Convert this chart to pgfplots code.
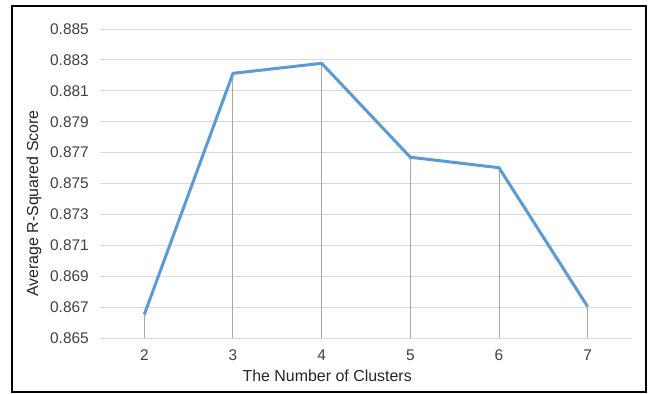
\documentclass[border=0pt]{standalone}
\usepackage{fontspec}
\setmainfont{Liberation Sans}
\usepackage{pgfplots}
\pgfplotsset{compat=1.18}
\definecolor{linecol}{HTML}{5B9BD5}
\definecolor{gridcol}{HTML}{D9D9D9}
\definecolor{dropcol}{HTML}{A6A6A6}
\definecolor{tickcol}{HTML}{404040}
\definecolor{labcol}{HTML}{262626}

\pgfplotstableread{
k   r2
2   0.86653
3   0.88213
4   0.88278
5   0.87670
6   0.87602
7   0.86703
}\scores

\begin{document}
\begin{tikzpicture}
\path[use as bounding box] (-100bp,-56bp) rectangle (553bp,338bp);
\draw[line width=2.3bp] (-87.8bp,-54bp) rectangle (546bp,332bp);
\begin{axis}[
  at={(0,0)}, anchor=south west,
  scale only axis, width=532bp, height=309bp,
  xmin=1.5, xmax=7.5, ymin=0.865, ymax=0.885,
  xtick={2,3,4,5,6,7},
  ytick={0.865,0.867,0.869,0.871,0.873,0.875,0.877,0.879,0.881,0.883,0.885},
  axis line style={draw=none},
  major tick style={draw=none},
  ymajorgrids,
  grid style={color=gridcol, line width=0.9bp},
  clip=false,
  font=\fontsize{15.5}{18}\selectfont,
  /pgf/number format/assume math mode=true,
  yticklabel style={/pgf/number format/fixed, /pgf/number format/precision=3,
    /pgf/number format/fixed zerofill, inner sep=0pt, xshift=-11bp, text=tickcol},
  xticklabel style={inner sep=0pt, yshift=-12bp, text=tickcol},
  xlabel={The Number of Clusters},
  ylabel={Average R-Squared Score},
  xlabel style={at={(axis description cs:0.427,-0.123)}, anchor=center,
    text=labcol, font=\fontsize{16}{19}\selectfont},
  ylabel style={at={(axis description cs:-0.1241,0.435)}, anchor=center,
    text=labcol, font=\fontsize{16}{19}\selectfont},
]
% vertical drop lines from each point to the axis
\addplot[ycomb, color=dropcol, line width=1bp, mark=none] table[x=k, y=r2] {\scores};
\addplot[color=linecol, line width=3bp, mark=none, line join=round] table[x=k, y=r2] {\scores};
\end{axis}
\end{tikzpicture}
\end{document}
